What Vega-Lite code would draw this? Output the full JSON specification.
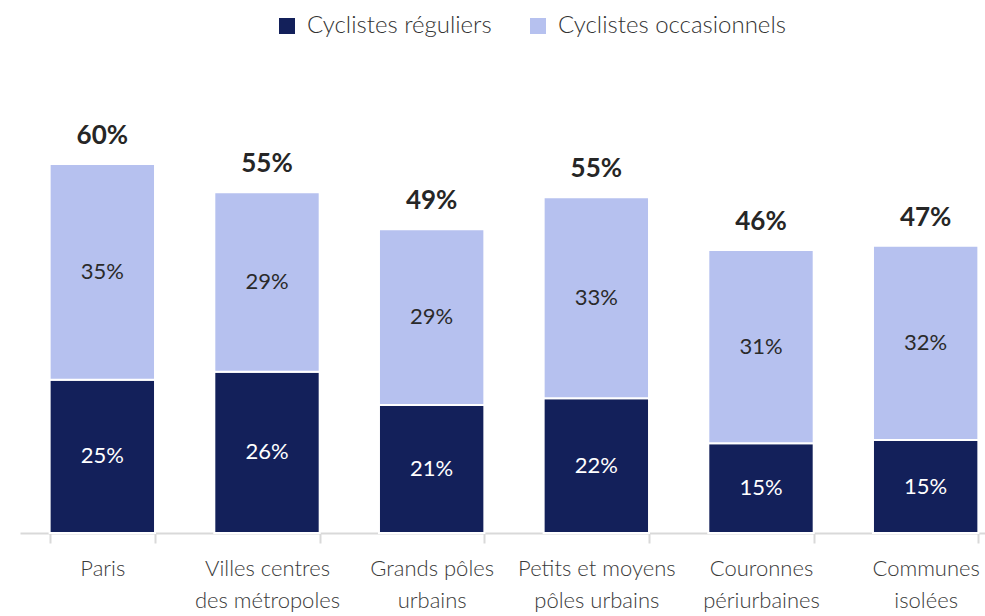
{
  "$schema": "https://vega.github.io/schema/vega-lite/v6.json",
  "autosize": "none",
  "width": 988,
  "height": 473,
  "padding": {"left": 20, "top": 60, "right": 0, "bottom": 83},
  "background": "white",
  "config": {
    "view": {"stroke": null},
    "font": "Lato",
    "text": {"font": "Lato"}
  },
  "datasets": {
    "main": [
      {"cat": "Paris", "series": "Cyclistes réguliers", "value": 0.249},
      {"cat": "Paris", "series": "Cyclistes occasionnels", "value": 0.351},
      {"cat": "Villes centres|des métropoles", "series": "Cyclistes réguliers", "value": 0.262},
      {"cat": "Villes centres|des métropoles", "series": "Cyclistes occasionnels", "value": 0.292},
      {"cat": "Grands pôles|urbains", "series": "Cyclistes réguliers", "value": 0.208},
      {"cat": "Grands pôles|urbains", "series": "Cyclistes occasionnels", "value": 0.286},
      {"cat": "Petits et moyens|pôles urbains", "series": "Cyclistes réguliers", "value": 0.219},
      {"cat": "Petits et moyens|pôles urbains", "series": "Cyclistes occasionnels", "value": 0.327},
      {"cat": "Couronnes|périurbaines", "series": "Cyclistes réguliers", "value": 0.146},
      {"cat": "Couronnes|périurbaines", "series": "Cyclistes occasionnels", "value": 0.314},
      {"cat": "Communes|isolées", "series": "Cyclistes réguliers", "value": 0.151},
      {"cat": "Communes|isolées", "series": "Cyclistes occasionnels", "value": 0.316}
    ]
  },
  "data": {"name": "main"},
  "encoding": {
    "x": {
      "field": "cat",
      "type": "nominal",
      "sort": null,
      "scale": {"paddingInner": 0.36, "paddingOuter": 0.18},
      "axis": {
        "title": null,
        "labelAngle": 0,
        "labelExpr": "split(datum.label, '|')",
        "labelFont": "Lato",
        "labelFontSize": 22,
        "labelFontWeight": 300,
        "labelColor": "#3a3a3a",
        "labelLineHeight": 32,
        "labelPadding": 15,
        "labelBaseline": "top",
        "labelLimit": 220,
        "domainColor": "#d9d9d9",
        "domainWidth": 2,
        "tickColor": "#d9d9d9",
        "tickWidth": 2,
        "tickSize": 10,
        "tickBand": "extent"
      }
    }
  },
  "layer": [
    {
      "mark": {"type": "bar", "stroke": "white", "strokeWidth": 2},
      "encoding": {
        "y": {
          "field": "value",
          "type": "quantitative",
          "stack": "zero",
          "scale": {"domain": [0, 0.769], "nice": false, "zero": true},
          "axis": null
        },
        "color": {
          "field": "series",
          "type": "nominal",
          "scale": {
            "domain": ["Cyclistes réguliers", "Cyclistes occasionnels"],
            "range": ["#13205a", "#b6c1ef"]
          },
          "legend": {
            "title": null,
            "orient": "none",
            "direction": "horizontal",
            "legendX": 255,
            "legendY": -46,
            "symbolType": "square",
            "symbolSize": 256,
            "symbolStrokeWidth": 0,
            "labelFont": "Lato",
            "labelFontSize": 24,
            "labelFontWeight": 300,
            "labelColor": "#333333",
            "labelOffset": 8,
            "labelLimit": 400,
            "columnPadding": 34
          }
        },
        "order": {"field": "series", "sort": "descending"}
      }
    },
    {
      "transform": [
        {"stack": "value", "groupby": ["cat"], "sort": [{"field": "series", "order": "descending"}], "as": ["y0", "y1"]},
        {"calculate": "(datum.y0 + datum.y1) / 2", "as": "mid"}
      ],
      "mark": {"type": "text", "fontSize": 22, "baseline": "middle", "align": "center"},
      "encoding": {
        "y": {"field": "mid", "type": "quantitative"},
        "text": {"field": "value", "type": "quantitative", "format": ".0%"},
        "color": {
          "field": "series",
          "type": "nominal",
          "scale": {
            "domain": ["Cyclistes réguliers", "Cyclistes occasionnels"],
            "range": ["#ffffff", "#2a2a2a"]
          },
          "legend": null
        }
      }
    },
    {
      "transform": [
        {"aggregate": [{"op": "sum", "field": "value", "as": "total"}], "groupby": ["cat"]}
      ],
      "mark": {"type": "text", "fontSize": 26, "fontWeight": "bold", "baseline": "alphabetic", "align": "center", "dy": -20, "color": "#262626"},
      "encoding": {
        "y": {"field": "total", "type": "quantitative"},
        "text": {"field": "total", "type": "quantitative", "format": ".0%"}
      }
    }
  ],
  "resolve": {"scale": {"color": "independent"}}
}
